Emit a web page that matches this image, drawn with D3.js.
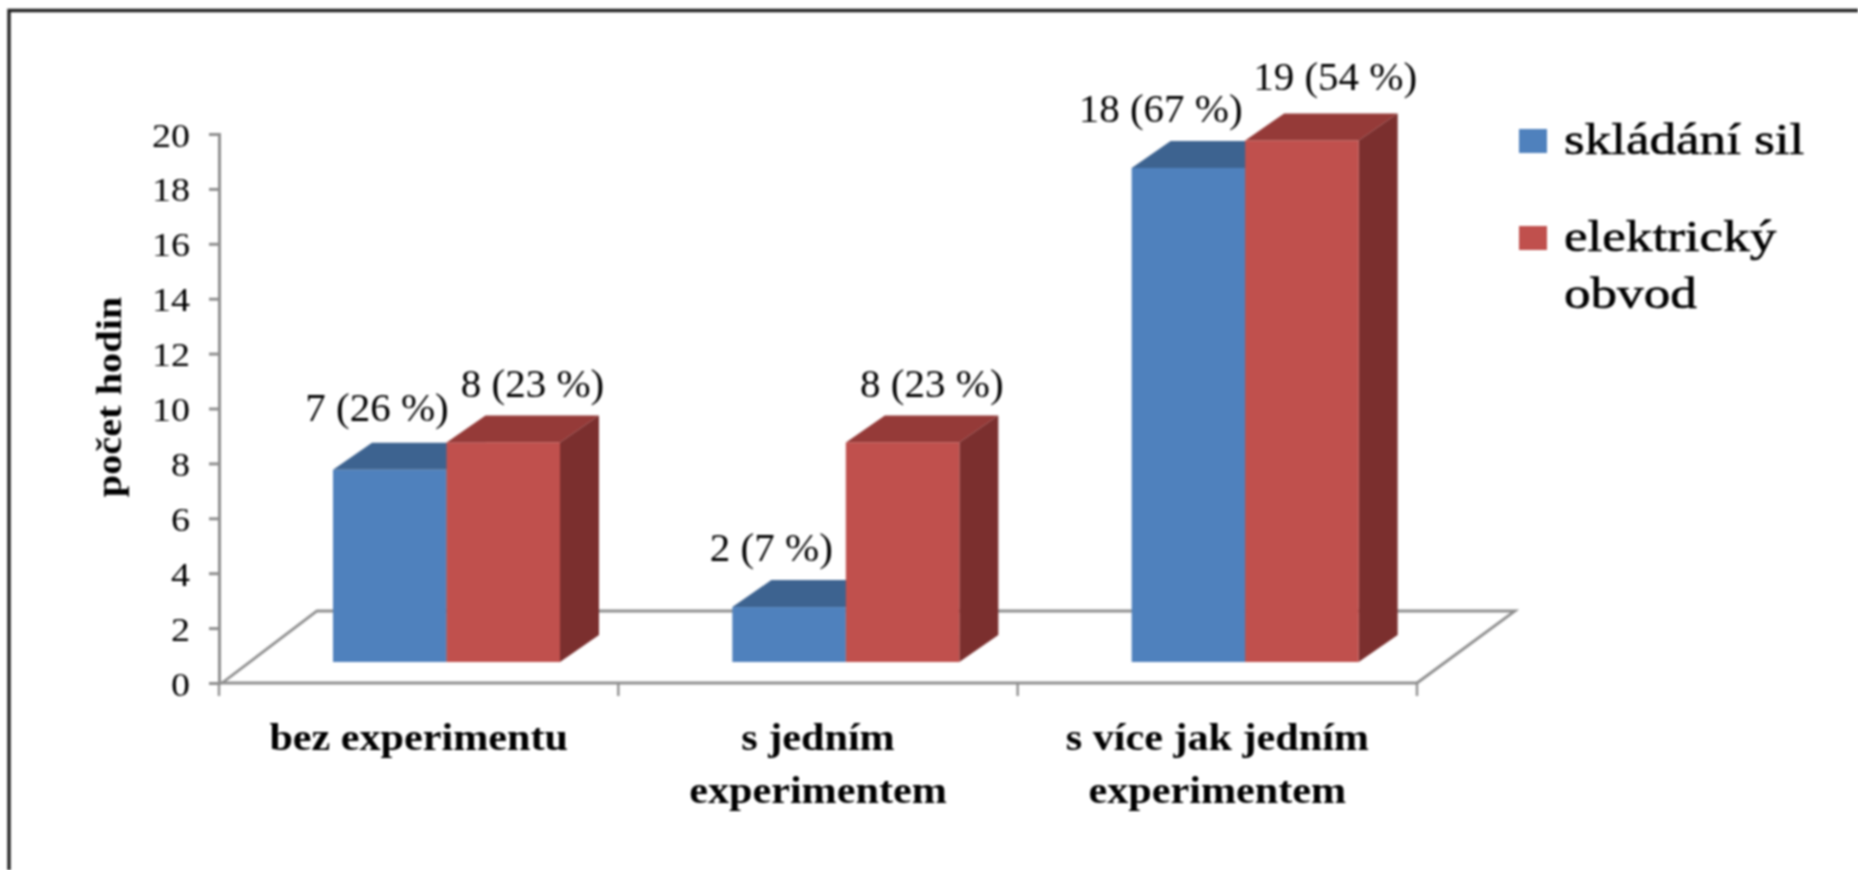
<!DOCTYPE html>
<html><head><meta charset="utf-8">
<script src="https://cdn.jsdelivr.net/npm/d3@7"></script>
<style>
html,body{margin:0;padding:0;background:#fff;overflow:hidden}
svg{display:block;filter:blur(1px)}
text{font-family:"Liberation Serif",serif;fill:#000}
</style></head><body>
<script>
const categories=[["bez experimentu"],["s jedním","experimentem"],["s více jak jedním","experimentem"]];
const seriesNames=[["skládání sil"],["elektrický","obvod"]];
const bluePart=[7,2,18];
const redPart=[8,8,19];
const blueLabels=["7 (26 %)","2 (7 %)","18 (67 %)"];
const redLabels=["8 (23 %)","8 (23 %)","19 (54 %)"];
const yTicks=[0,2,4,6,8,10,12,14,16,18,20];
const colors=[{front:"#4f81bd",top:"#3d6390",side:"#34557c"},{front:"#c0504d",top:"#953a38",side:"#7b2f2e"}];
const W=1858,H=870;
const svg=d3.select("body").append("svg").attr("width",W).attr("height",H);
svg.append("path").attr("d",`M9 ${H+5}V10.5H${W+5}`).attr("fill","none").attr("stroke","#222").attr("stroke-width",3.4);

const y=d3.scaleLinear().domain([0,20]).range([683,134]);
const x=d3.scaleBand().domain(d3.range(3)).range([219,1417]);
const depth={dx:39,dy:27}, frontDrop=21, floorDx=98, floorDy=72;
const grey="#8f8f8f";

// floor
svg.append("path").attr("d",`M${x.range()[0]+3} ${y(0)}L${x.range()[0]+floorDx} ${y(0)-floorDy}H${x.range()[1]+floorDx}L${x.range()[1]} ${y(0)}`)
 .attr("fill","none").attr("stroke",grey).attr("stroke-width",2.8);

// axes
const yAxis=svg.append("g").attr("transform",`translate(${x.range()[0]},0)`).call(d3.axisLeft(y).tickValues(yTicks).tickSize(10).tickPadding(12));
yAxis.selectAll("path,line").attr("stroke",grey).attr("stroke-width",3);
yAxis.selectAll("text").attr("font-size",34).attr("font-family","Liberation Serif").each(function(){
  d3.select(this).attr("dy",null).attr("y",12).attr("x",0).attr("transform","translate(-29,0) scale(1.12,1)");
});
const xAxis=svg.append("g").attr("transform",`translate(0,${y(0)})`);
xAxis.append("path").attr("d",`M${x.range()[0]} 0H${x.range()[1]}`).attr("stroke",grey).attr("stroke-width",3);
d3.range(4).forEach(i=>{const px=x.range()[0]+i*x.bandwidth();xAxis.append("line").attr("x1",px).attr("x2",px).attr("y1",0).attr("y2",13).attr("stroke",grey).attr("stroke-width",2.4)});

// text helper: the source image is stretched horizontally
function label(cx,base,str,size,sx,weight,anchor="middle"){
  return svg.append("text").attr("transform",`translate(${cx},${base}) scale(${sx},1)`).attr("text-anchor",anchor)
    .attr("font-size",size).attr("font-weight",weight||400).text(str);
}

// bars
const barW=113.5, barStart=114;
function bar(x0,v,c){
  const top=y(v)-frontDrop, yBase=y(0)-frontDrop, w=barW;
  svg.append("path").attr("d",`M${x0} ${top}l${depth.dx} ${-depth.dy}h${w}l${-depth.dx} ${depth.dy}Z`).attr("fill",c.top);
  svg.append("path").attr("d",`M${x0+w} ${top}l${depth.dx} ${-depth.dy}V${yBase-depth.dy}l${-depth.dx} ${depth.dy}Z`).attr("fill",c.side);
  svg.append("rect").attr("x",x0).attr("y",top).attr("width",w).attr("height",yBase-top).attr("fill",c.front);
}
categories.forEach((cat,i)=>{
  const x0=x(i)+barStart;
  bar(x0,bluePart[i],colors[0]);
  bar(x0+barW,redPart[i],colors[1]);
});
// data labels (layout offsets from each bar)
const blueShift=[44,39,29], redShift=[86,86,90];
const blueRise=[49,46,46], redRise=[45,45,50];
categories.forEach((cat,i)=>{
  const x0=x(i)+barStart;
  label(x0+blueShift[i],y(bluePart[i])-frontDrop-blueRise[i],blueLabels[i],41,1.0);
  label(x0+barW+redShift[i],y(redPart[i])-frontDrop-redRise[i],redLabels[i],41,1.0);
});
// category labels
categories.forEach((cat,i)=>{
  const cx=x(i)+x.bandwidth()/2;
  cat.forEach((s,k)=>label(cx,750+k*53,s,37,1.14,700));
});
// y title
svg.append("text").attr("transform","translate(121,397) rotate(-90) scale(1.12,1)").attr("text-anchor","middle").attr("font-size",36).attr("font-weight",700).text("počet hodin");

// legend
const legY=[142,239];
seriesNames.forEach((lines,i)=>{
  svg.append("rect").attr("x",1519).attr("y",legY[i]-13).attr("width",28).attr("height",24).attr("fill",colors[i].front);
  lines.forEach((s,k)=>label(1564,legY[i]+12+k*57,s,45,1.18,400,"start").attr("stroke","#000").attr("stroke-width",0.6));
});
</script></body></html>
